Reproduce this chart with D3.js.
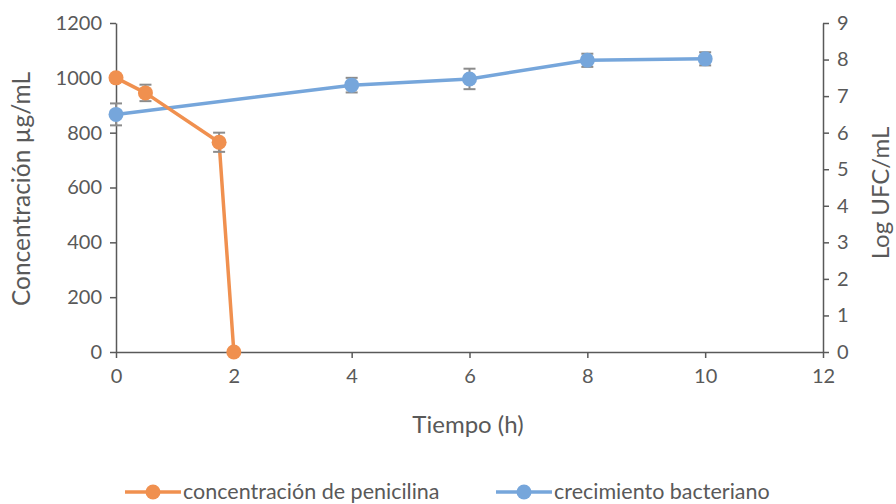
<!DOCTYPE html>
<html>
<head>
<meta charset="utf-8">
<script src="https://cdn.jsdelivr.net/npm/d3@7/dist/d3.min.js"></script>
<style>
  html, body { margin: 0; padding: 0; background: #fff; }
  svg { display: block; font-family: Lato, "Open Sans", sans-serif; }
</style>
</head>
<body>
<svg id="chart" width="896" height="504"></svg>
<script>
// Time points (h) and measurements
const penTime = [0, 0.5, 1.75, 2];
const penValue = [1000, 945, 765, 0];
const penError = [0, 30, 35, 0];

const bactTime = [0, 4, 6, 8, 10];
const bactValue = [6.5, 7.3, 7.47, 7.98, 8.02];
const bactError = [0.3, 0.2, 0.28, 0.18, 0.18];

const xTicks = [0, 2, 4, 6, 8, 10, 12];
const yLeftTicks = [0, 200, 400, 600, 800, 1000, 1200];
const yRightTicks = [0, 1, 2, 3, 4, 5, 6, 7, 8, 9];

const seriesNames = ["concentración de penicilina", "crecimiento bacteriano"];

const orange = "#F0904F";
const blue = "#76A6DB";
const axisColor = "#595959";
const textColor = "#595959";
const errColor = "#8C8C8C";

const svg = d3.select("#chart");
const plotLeft = 116, plotRight = 823, plotTop = 23, plotBottom = 352;

const x = d3.scaleLinear().domain([0, 12]).range([plotLeft, plotRight]);
const yL = d3.scaleLinear().domain([0, 1200]).range([plotBottom, plotTop]);
const yR = d3.scaleLinear().domain([0, 9]).range([plotBottom, plotTop]);

const fmt = d3.format("d");

function styleAxis(g) {
  g.select(".domain").attr("stroke", axisColor).attr("stroke-width", 1.5);
  g.selectAll(".tick line").attr("stroke", axisColor).attr("stroke-width", 1.5);
  g.selectAll(".tick text").attr("fill", textColor)
    .style("font-size", "20px").style("font-family", "Lato, 'Open Sans', sans-serif");
}

svg.append("g").attr("transform", `translate(0,${plotBottom})`)
  .call(d3.axisBottom(x).tickValues(xTicks).tickFormat(fmt).tickSize(6).tickSizeOuter(0).tickPadding(11))
  .call(styleAxis);

svg.append("g").attr("transform", `translate(${plotLeft},0)`)
  .call(d3.axisLeft(yL).tickValues(yLeftTicks).tickFormat(fmt).tickSize(6).tickSizeOuter(0).tickPadding(8))
  .call(styleAxis);

svg.append("g").attr("transform", `translate(${plotRight},0)`)
  .call(d3.axisRight(yR).tickValues(yRightTicks).tickFormat(fmt).tickSize(6).tickSizeOuter(0).tickPadding(8))
  .call(styleAxis);

// Axis titles
svg.append("text").attr("x", 468).attr("y", 433).attr("text-anchor", "middle")
  .attr("fill", textColor).style("font-size", "24px").text("Tiempo (h)");
svg.append("text").attr("transform", `translate(30,189) rotate(-90)`)
  .attr("text-anchor", "middle").attr("fill", textColor).style("font-size", "24.5px")
  .text("Concentración µg/mL");
svg.append("text").attr("transform", `translate(889,193) rotate(-90)`)
  .attr("text-anchor", "middle").attr("fill", textColor).style("font-size", "24px")
  .text("Log UFC/mL");

const pen = penTime.map((t, i) => ({ t, v: penValue[i], e: penError[i] }));
const bact = bactTime.map((t, i) => ({ t, v: bactValue[i], e: bactError[i] }));

function drawSeries(data, y, color) {
  const line = d3.line().x(d => x(d.t)).y(d => y(d.v));
  svg.append("path").datum(data).attr("d", line)
    .attr("fill", "none").attr("stroke", color).attr("stroke-width", 3.5)
    .attr("stroke-linejoin", "round");

  const eb = svg.append("g").attr("stroke", errColor).attr("stroke-width", 2);
  data.filter(d => d.e > 0).forEach(d => {
    const cx = x(d.t), y1 = y(d.v + d.e), y2 = y(d.v - d.e);
    eb.append("line").attr("x1", cx).attr("x2", cx).attr("y1", y1).attr("y2", y2);
    eb.append("line").attr("x1", cx - 6).attr("x2", cx + 6).attr("y1", y1).attr("y2", y1);
    eb.append("line").attr("x1", cx - 6).attr("x2", cx + 6).attr("y1", y2).attr("y2", y2);
  });

  svg.append("g").selectAll("circle").data(data).join("circle")
    .attr("cx", d => x(d.t)).attr("cy", d => y(d.v)).attr("r", 7.5)
    .attr("fill", color);
}

drawSeries(bact, yR, blue);
drawSeries(pen, yL, orange);

// Legend
const legendItems = [
  { name: seriesNames[0], color: orange, x0: 125 },
  { name: seriesNames[1], color: blue, x0: 496 }
];
const ly = 492;
legendItems.forEach(it => {
  const g = svg.append("g");
  g.append("line").attr("x1", it.x0).attr("x2", it.x0 + 56).attr("y1", ly).attr("y2", ly)
    .attr("stroke", it.color).attr("stroke-width", 3.5);
  g.append("circle").attr("cx", it.x0 + 28).attr("cy", ly).attr("r", 7.5).attr("fill", it.color);
  g.append("text").attr("x", it.x0 + 58).attr("y", ly + 7).attr("fill", textColor)
    .style("font-size", "21.5px").text(it.name);
});
</script>
</body>
</html>
